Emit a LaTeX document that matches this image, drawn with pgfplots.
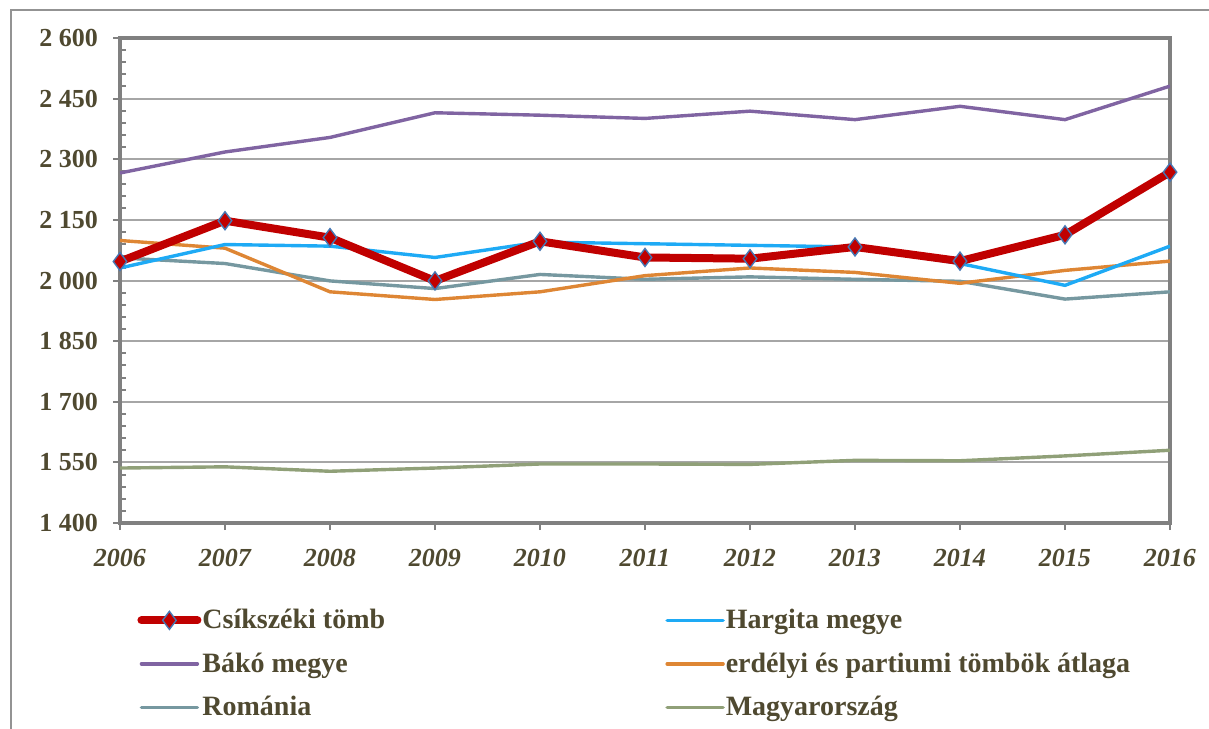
\documentclass[border=0pt]{standalone}
\usepackage{fontspec}
\setmainfont{Liberation Serif}
\usepackage{pgfplots}
\pgfplotsset{compat=1.18}
\definecolor{txt}{RGB}{79,73,48}
\definecolor{csik}{RGB}{192,0,0}
\definecolor{mk}{RGB}{70,120,180}
\definecolor{harg}{RGB}{30,170,245}
\definecolor{bako}{RGB}{128,100,162}
\definecolor{erd}{RGB}{222,134,52}
\definecolor{rom}{RGB}{118,152,160}
\definecolor{hun}{RGB}{144,160,120}
\definecolor{frm}{RGB}{128,128,128}
\definecolor{grd}{RGB}{166,166,166}
\pgfplotsset{
  csikstyle/.style={csik, line width=4pt, mark=diamond*, mark size=4.5pt,
    mark options={fill=csik, draw=mk, line width=0.7pt}},
  hargstyle/.style={harg, line width=1.7pt},
  bakostyle/.style={bako, line width=1.7pt},
  erdstyle/.style={erd, line width=1.7pt},
  romstyle/.style={rom, line width=1.7pt},
  hunstyle/.style={hun, line width=1.7pt},
}
\begin{document}
\begin{tikzpicture}[x=1pt,y=1pt]
\begin{axis}[
  name=ax, at={(0,0)}, anchor=south west,
  scale only axis, width=525pt, height=242.5pt,
  xmin=2006, xmax=2016, ymin=1400, ymax=2600,
  xtick={2006,...,2016},
  ytick={1400,1550,...,2600},
  minor y tick num=4,
  xtick pos=bottom, ytick pos=left,
  ymajorgrids, grid style={grd, line width=1pt},
  axis line style={frm, line width=2pt},
  tick style={frm, line width=1pt},
  tick align=outside, major tick length=3.5pt, minor tick length=3pt,
  minor y tick style={xshift=3pt},
  /pgf/number format/assume math mode=true,
  tick label style={text=txt},
  x tick label style={/pgf/number format/1000 sep={}, font=\fontsize{13}{15}\selectfont\bfseries\itshape, yshift=-6pt},
  y tick label style={/pgf/number format/1000 sep={\ }, font=\fontsize{13}{15}\selectfont\bfseries, xshift=-4pt},
  legend columns=2,
  legend cell align=left,
  legend style={draw=none, fill=none, at={(0.0162,-0.1747)}, anchor=north west,
    font=\fontsize{14}{16}\selectfont\bfseries, text=txt,
    row sep=9.5pt, column sep=0pt, inner sep=0pt,
    nodes={inner sep=0.5pt}},
  legend image code/.code={\draw[line cap=round, mark repeat=2, mark phase=2, #1] plot coordinates {(0pt,0pt) (14pt,0pt) (28pt,0pt)};},
]
\addlegendimage{csikstyle}
\addlegendentry{\makebox[231pt][l]{Csíkszéki tömb}}
\addlegendimage{hargstyle}
\addlegendentry{Hargita megye}
\addlegendimage{bakostyle}
\addlegendentry{\makebox[231pt][l]{Bákó megye}}
\addlegendimage{erdstyle}
\addlegendentry{erdélyi és partiumi tömbök átlaga}
\addlegendimage{romstyle}
\addlegendentry{\makebox[231pt][l]{Románia}}
\addlegendimage{hunstyle}
\addlegendentry{Magyarország}

% Magyarország
\addplot[hunstyle, forget plot] coordinates {
  (2006,1536) (2007,1539) (2008,1528) (2009,1536) (2010,1546) (2011,1546)
  (2012,1545) (2013,1555) (2014,1554) (2015,1566) (2016,1580)};
% Románia
\addplot[romstyle, forget plot] coordinates {
  (2006,2056) (2007,2042) (2008,1999) (2009,1980) (2010,2015) (2011,2003)
  (2012,2009) (2013,2003) (2014,1998) (2015,1954) (2016,1972)};
% erdélyi és partiumi tömbök átlaga
\addplot[erdstyle, forget plot] coordinates {
  (2006,2099) (2007,2080) (2008,1972) (2009,1953) (2010,1972) (2011,2012)
  (2012,2031) (2013,2020) (2014,1993) (2015,2025) (2016,2048)};
% Bákó megye
\addplot[bakostyle, forget plot] coordinates {
  (2006,2266) (2007,2318) (2008,2354) (2009,2415) (2010,2409) (2011,2401)
  (2012,2419) (2013,2398) (2014,2431) (2015,2398) (2016,2481)};
% Hargita megye
\addplot[hargstyle, forget plot] coordinates {
  (2006,2031) (2007,2089) (2008,2085) (2009,2057) (2010,2095) (2011,2091)
  (2012,2087) (2013,2083) (2014,2042) (2015,1988) (2016,2085)};
% Csíkszéki tömb
\addplot[csikstyle, forget plot] coordinates {
  (2006,2047) (2007,2148) (2008,2106) (2009,1999) (2010,2097) (2011,2057)
  (2012,2054) (2013,2083) (2014,2048) (2015,2113) (2016,2268)};
\end{axis}
% outer frame of the chart area (left and top edges visible)
\draw[frm!85, line width=0.8pt] (-54.5,-120) -- (-54.5,256.5) -- (560,256.5);
\pgfresetboundingbox
\useasboundingbox (-60,-102.5) rectangle (544.5,261.5);
\end{tikzpicture}
\end{document}
